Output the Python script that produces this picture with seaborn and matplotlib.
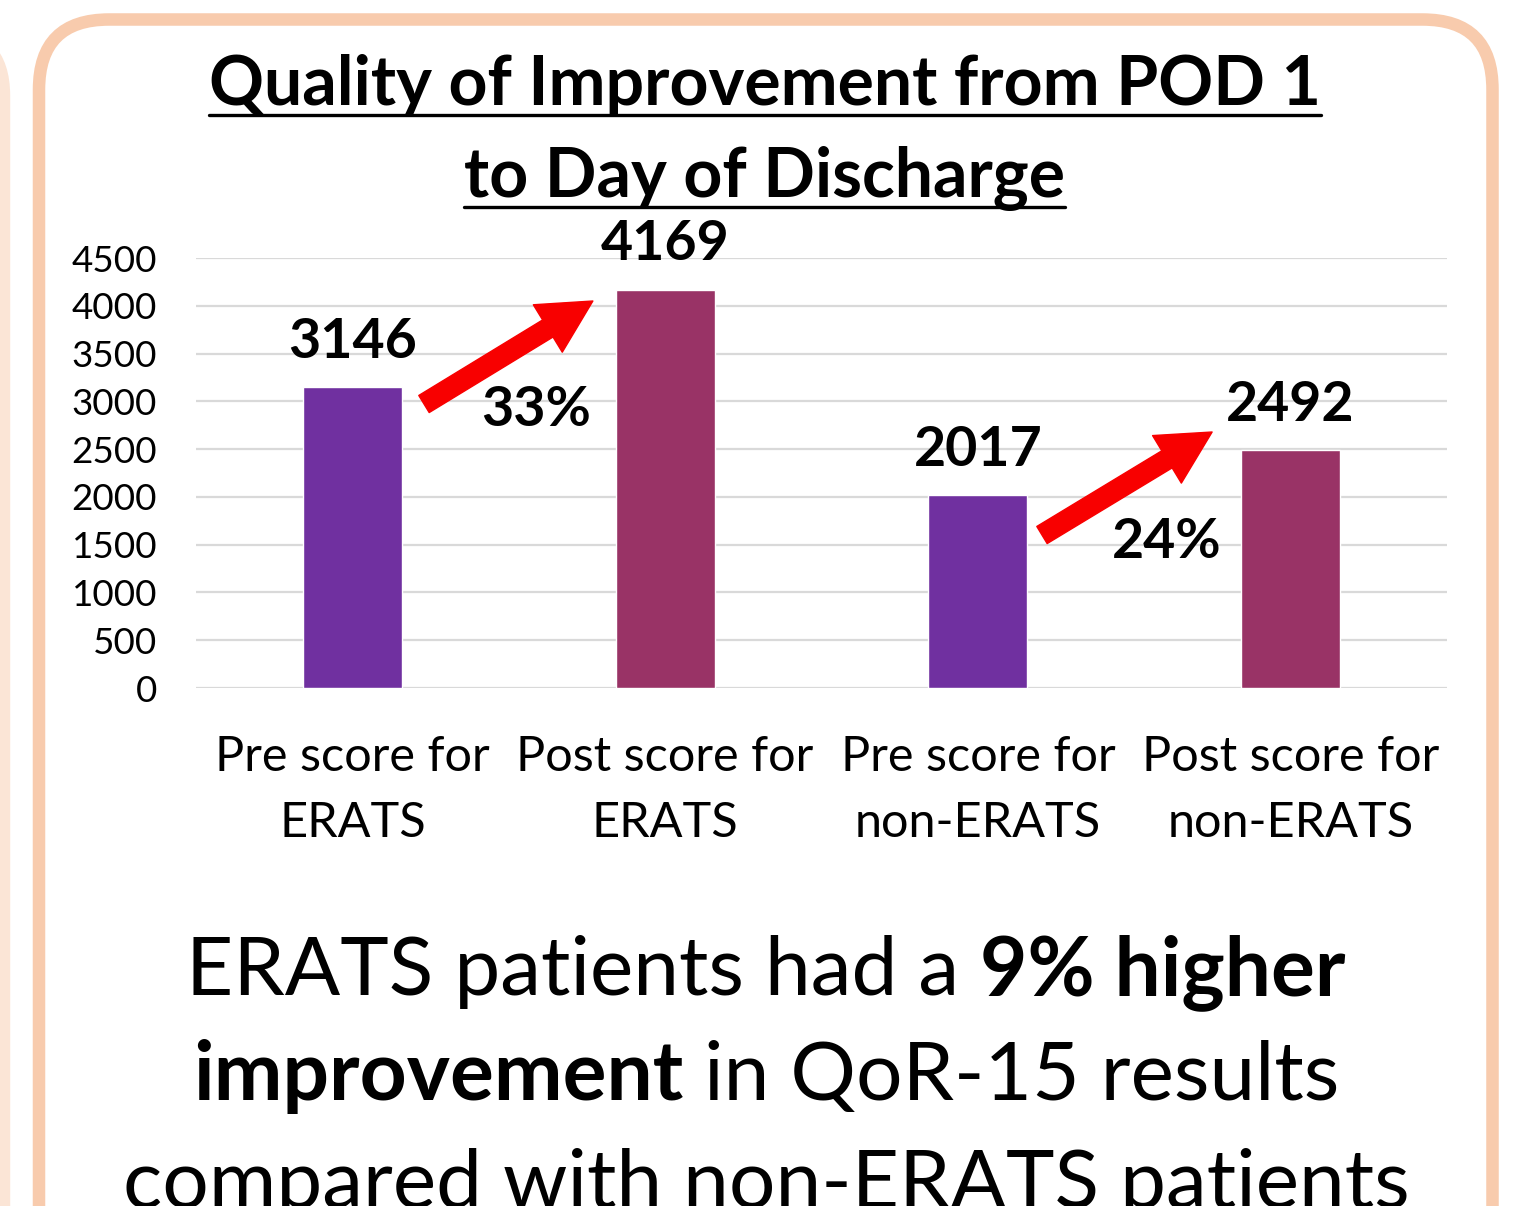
import matplotlib
matplotlib.use("Agg")
import matplotlib.pyplot as plt
from matplotlib.patches import FancyBboxPatch
from matplotlib.lines import Line2D
import seaborn as sns

# data
categories = ["Pre score for\nERATS", "Post score for\nERATS",
              "Pre score for\nnon-ERATS", "Post score for\nnon-ERATS"]
scores = [3146, 4169, 2017, 2492]
bar_colors = ["#7030A0", "#993366", "#7030A0", "#993366"]
y_ticks = [0, 500, 1000, 1500, 2000, 2500, 3000, 3500, 4000, 4500]
pct_labels = ["33%", "24%"]
pct_pos = [(0.587, 2960), (2.605, 1570)]
arrow_tails = [(0.229, 2972), (2.205, 1601)]
arrow_tips = [(0.769, 4050), (2.749, 2679)]

title_lines = ["Quality of Improvement from POD 1", "to Day of Discharge"]
note_lines = [
    [("ERATS patients had a", "normal"), ("9% higher", "bold")],
    [("improvement", "bold"), ("in QoR-15 results", "normal")],
    [("compared with non-ERATS patients", "normal")],
]

sns.set_theme(style="whitegrid")
plt.rcParams["font.family"] = ["Lato", "DejaVu Sans"]

W, H = 1527, 1206
fig = plt.figure(figsize=(W / 100, H / 100), dpi=100)
fig.patch.set_facecolor("white")

def px(x, y):
    # pixel (from top-left) -> figure fraction
    return x / W, 1 - y / H

# panel borders
fig.patches.append(FancyBboxPatch((-3.0, -1.0), 3.05, 12.75,
                                  boxstyle="round,pad=0,rounding_size=0.65",
                                  transform=fig.dpi_scale_trans, fill=False,
                                  edgecolor="#FBE5D6", linewidth=7.5))
fig.patches.append(FancyBboxPatch((0.39, -1.0), 14.535, 12.865,
                                  boxstyle="round,pad=0,rounding_size=0.7",
                                  transform=fig.dpi_scale_trans, fill=False,
                                  edgecolor="#F8CBAD", linewidth=9))

l, b = px(196, 688)
r, t = px(1447, 258)
ax = fig.add_axes([l, b, r - l, t - b])
ax.set_facecolor("none")

sns.barplot(x=categories, y=scores, hue=categories, palette=bar_colors,
            legend=False, width=0.316, saturation=1, ax=ax)

ax.set_xlim(-0.5, 3.5)
ax.set_ylim(0, 4500)
ax.set_yticks(y_ticks)
ax.set_yticklabels([str(v) for v in y_ticks])
ax.grid(axis="y", color="#D9D9D9", linewidth=1.6)
ax.grid(axis="x", visible=False)
for s in ax.spines.values():
    s.set_visible(False)
ax.tick_params(axis="y", length=0, pad=28, labelsize=26.5, labelcolor="black")
ax.tick_params(axis="x", length=0, pad=34, labelsize=35, labelcolor="black")
for lab in ax.get_xticklabels():
    lab.set_linespacing(1.6)
ax.set_xlabel("")
ax.set_ylabel("")

for i, v in enumerate(scores):
    ax.annotate(str(v), (i, v), xytext=(0, 21), textcoords="offset points",
                ha="center", va="baseline", fontsize=40, fontweight="bold",
                color="black")

for (tx, ty), (hx, hy) in zip(arrow_tails, arrow_tips):
    ax.annotate("", xy=(hx, hy), xytext=(tx, ty),
                arrowprops=dict(arrowstyle="simple,head_length=1.9,head_width=2.0,tail_width=0.72",
                                mutation_scale=20, color="#F80000",
                                shrinkA=0, shrinkB=0))

for lab, (x, y) in zip(pct_labels, pct_pos):
    ax.text(x, y, lab, ha="center", va="center_baseline", fontsize=40,
            fontweight="bold", color="black")

fig.canvas.draw()
renderer = fig.canvas.get_renderer()

# title with underline
for txt, (cx, base, ul) in zip(title_lines, [(765, 105, 115), (764, 197, 207)]):
    x, y = px(cx, base)
    tt = fig.text(x, y, txt, ha="center", va="baseline", fontsize=49,
                  fontweight="bold", color="black")
    bb = tt.get_window_extent(renderer)
    uy = px(0, ul)[1]
    fig.add_artist(Line2D([bb.x0 / W, bb.x1 / W], [uy, uy], color="black",
                          linewidth=2.4, transform=fig.transFigure))

# mixed-weight note, centred
def text_width(s, weight, size):
    tmp = fig.text(0, 0, s, fontsize=size, fontweight=weight)
    w = tmp.get_window_extent(renderer).width
    tmp.remove()
    return w

note_size = 59
for segs, base in zip(note_lines, [995, 1100, 1208]):
    widths = [text_width(s, w, note_size) for s, w in segs]
    space = text_width("x x", "normal", note_size) - text_width("xx", "normal", note_size)
    total = sum(widths) + space * (len(segs) - 1)
    x0 = 766 - total / 2
    for (s, w), wd in zip(segs, widths):
        fig.text(x0 / W, px(0, base)[1], s, ha="left", va="baseline",
                 fontsize=note_size, fontweight=w, color="black")
        x0 += wd + space

fig.savefig("out.png", dpi=100)
